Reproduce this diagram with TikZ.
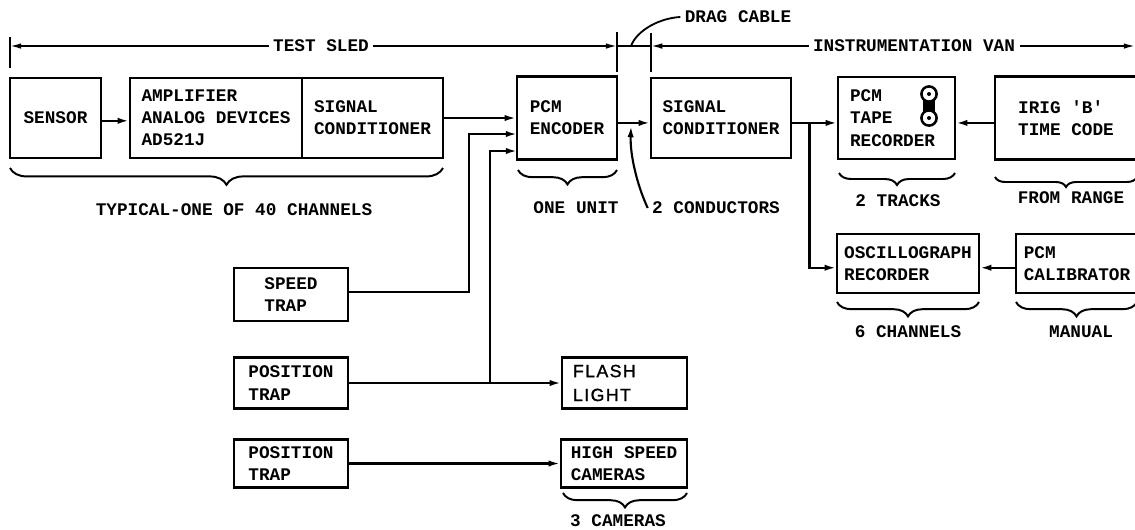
\documentclass[tikz,border=0pt]{standalone}
\usepackage{fontspec}
\setmonofont{Liberation Mono}
\newfontfamily\handfont[LetterSpace=8, FakeBold=1.2]{Liberation Sans}
\usetikzlibrary{arrows.meta, decorations.pathreplacing}
\tikzset{
  blockbox/.style={draw, line width=1.6pt, align=left, inner sep=0pt, font=\fontsize{12.6}{15.8}\selectfont\ttfamily\bfseries},
  plainlabel/.style={inner sep=3pt, font=\fontsize{12.6}{15.8}\selectfont\ttfamily\bfseries},
  flow/.style={line width=1.5pt, -{Latex[length=8pt,width=4.5pt]}},
  dimline/.style={line width=1.2pt},
  tipmark/.style={-{Latex[length=8pt,width=4pt]}},
  bracemark/.style={line width=1.4pt, decorate, decoration={brace, mirror, amplitude=#1}},
  bracemark/.default=0.36cm
}
\begin{document}
\begin{tikzpicture}[x=0.025cm, y=-0.025cm]
\useasboundingbox (0,0) rectangle (1135,529);
\node[blockbox, minimum width=2.275cm, minimum height=2cm] (sensor) at (55.5,118) {SENSOR};
\node[blockbox, minimum width=4.3cm, minimum height=2cm] (amp) at (216,118) {AMPLIFIER\\ANALOG DEVICES\\AD521J};
\node[blockbox, minimum width=3.525cm, minimum height=2cm] (sigone) at (372.5,118) {SIGNAL\\CONDITIONER};
\node[blockbox, minimum width=2.5cm, minimum height=2.075cm] (encoder) at (567,118) {PCM\\ENCODER};
\node[blockbox, minimum width=3.5cm, minimum height=2cm] (sigtwo) at (721,118) {SIGNAL\\CONDITIONER};
\node[blockbox, minimum height=2.05cm, text width=2.325cm, inner xsep=0.3cm] (tape) at (896.5,118) {PCM\\TAPE\\RECORDER};
\node[blockbox, minimum width=3.55cm, minimum height=2.075cm] (irig) at (1066,118) {IRIG 'B'\\TIME CODE};
\node[blockbox, minimum width=3.55cm, minimum height=1.475cm] (oscill) at (908,263.5) {OSCILLOGRAPH\\RECORDER};
\node[blockbox, minimum width=3.05cm, minimum height=1.475cm] (calib) at (1077,263.5) {PCM\\CALIBRATOR};
\node[blockbox, minimum width=2.85cm, minimum height=1.325cm] (speed) at (291,294.5) {SPEED\\TRAP};
\node[blockbox, minimum width=2.85cm, minimum height=1.275cm] (posone) at (291,383) {POSITION\\TRAP};
\node[blockbox, minimum width=2.85cm, minimum height=1.2cm] (postwo) at (291,463.5) {POSITION\\TRAP};
\node[blockbox, minimum height=1.275cm, text width=2.575cm, inner xsep=0.275cm, font=\fontsize{12.6}{17}\selectfont\handfont] (flash) at (624.5,383) {FLASH\\LIGHT};
\node[blockbox, minimum width=3.15cm, minimum height=1.2cm] (cameras) at (624,463.5) {HIGH SPEED\\CAMERAS};
\node[plainlabel] (testsled) at (321,46) {TEST SLED};
\node[plainlabel] (van) at (914,46) {INSTRUMENTATION VAN};
\node[plainlabel] (dragcable) at (738,17) {DRAG CABLE};
\node[plainlabel] (typical) at (234,210) {TYPICAL-ONE OF 40 CHANNELS};
\node[plainlabel] (oneunit) at (576,208) {ONE UNIT};
\node[plainlabel] (twocond) at (716,208) {2 CONDUCTORS};
\node[plainlabel] (tracks) at (898,201) {2 TRACKS};
\node[plainlabel] (range) at (1071,198) {FROM RANGE};
\node[plainlabel] (channels) at (908,332) {6 CHANNELS};
\node[plainlabel] (manual) at (1081,332) {MANUAL};
\node[plainlabel] (threecam) at (618,521) {3 CAMERAS};
\coordinate (dimleft) at (10,46);
\coordinate (cableleft) at (617,46);
\coordinate (cableright) at (651,46);
\coordinate (dimright) at (1135,46);
\coordinate (dragend) at (631,46);
\coordinate (condtip) at (631,126);
\coordinate (speedturn) at (469,134);
\coordinate (speedin) at (517,134);
\coordinate (flashturn) at (490,383);
\coordinate (flashin) at (517,151);
\coordinate (oscturn) at (809.5,123);
\draw[flow] ([yshift=-2pt]sensor.east) -- ([yshift=-2pt]amp.west);
\draw[flow] (sigone.east) -- (encoder.west);
\draw[flow] ([yshift=-3.5pt]encoder.east) -- ([yshift=-3.5pt]sigtwo.west);
\draw[flow] ([yshift=-3.5pt]sigtwo.east) -- ([yshift=-3.5pt]tape.west);
\draw[flow] ([yshift=-3.5pt]irig.west) -- ([yshift=-3.5pt]tape.east);
\draw[flow] (oscturn) |- ([yshift=-3pt]oscill.west);
\draw[flow] ([yshift=-3pt]calib.west) -- ([yshift=-3pt]oscill.east);
\draw[flow] ([yshift=2pt]speed.east) -| (speedturn) -- (speedin);
\draw[flow] (posone.east) -- (flash.west);
\draw[flow] (flashturn) |- (flashin);
\draw[flow] (postwo.east) -- (cameras.west);
\draw[dimline, tipmark] (testsled.west) -- (dimleft);
\draw[dimline, tipmark] (testsled.east) -- (cableleft);
\draw[dimline] (cableleft) -- (cableright);
\draw[dimline, tipmark] (van.west) -- (cableright);
\draw[dimline, tipmark] (van.east) -- (dimright);
\draw[line width=1.4pt] (10,37) -- (10,68);
\draw[line width=1.4pt] (617,32) -- (617,72);
\draw[line width=1.4pt] (651,33) -- (651,72);
\draw[line width=1.3pt] (dragcable.west) .. controls (660,18) and (637,30) .. (dragend);
\draw[flow] (twocond.west) .. controls (637,185) and (630,155) .. (condtip);
\fill (923,94) rectangle (935,118);
\filldraw[fill=white, draw=black, line width=1.8pt] (929,94) circle (0.19cm);
\filldraw[fill=white, draw=black, line width=1.8pt] (929,118) circle (0.19cm);
\fill (929,94) circle (0.05cm);
\fill (929,118) circle (0.05cm);
\draw[bracemark=0.42cm] (10,168) -- (443,168);
\draw[bracemark] (518,170) -- (617,170);
\draw[bracemark=0.3cm] (839,173) -- (955,173);
\draw[bracemark=0.25cm] (995,177) -- (1137,177);
\draw[bracemark] (837,302) -- (979,302);
\draw[bracemark] (1016,302) -- (1137,302);
\draw[bracemark] (563,493) -- (687,493);
\end{tikzpicture}
\end{document}
